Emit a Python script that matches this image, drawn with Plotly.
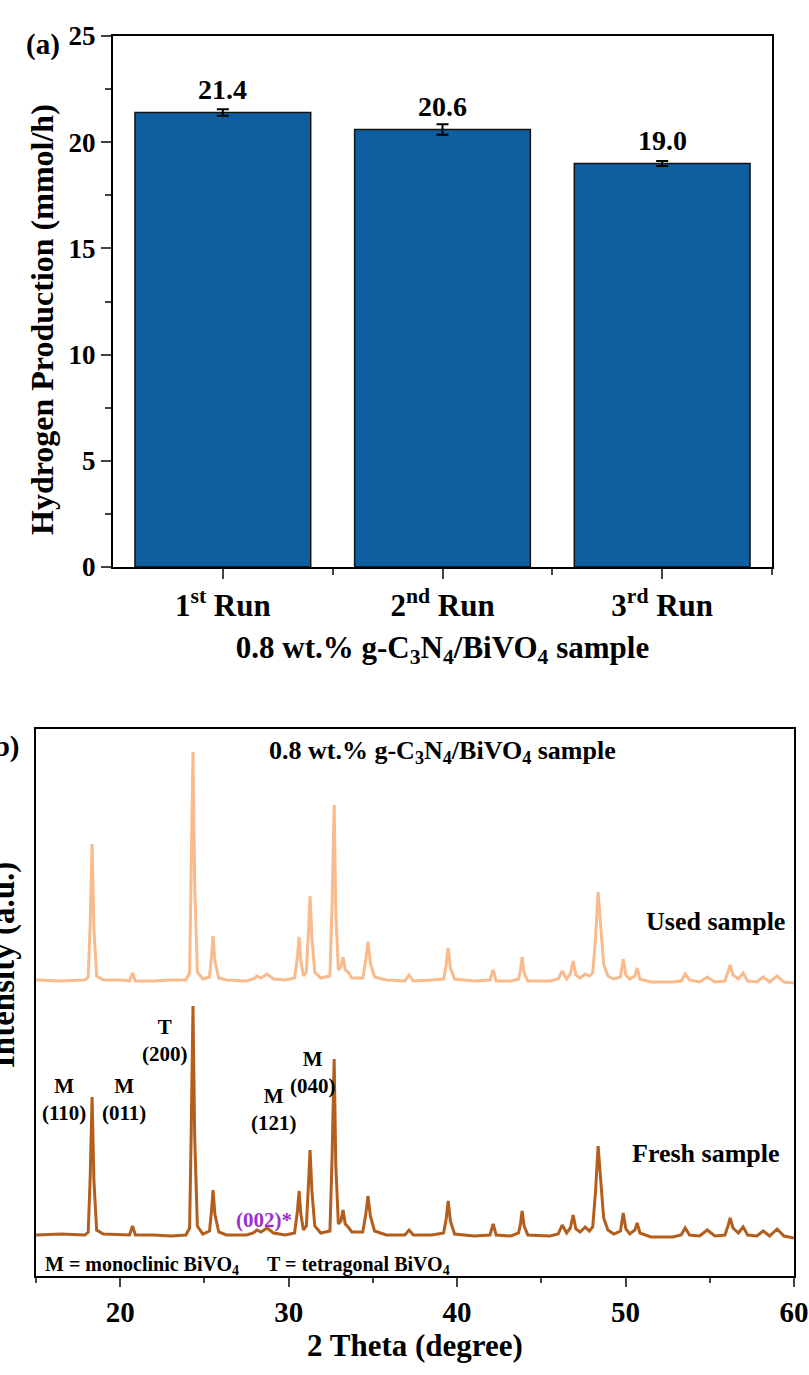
import plotly.graph_objects as go

# ---------------- Panel (a): hydrogen production over repeated runs ----------------
runs = ["1<sup>st</sup> Run", "2<sup>nd</sup> Run", "3<sup>rd</sup> Run"]
h2_rate = [21.4, 20.6, 19.0]          # mmol/h
h2_err = [0.15, 0.25, 0.12]

# ---------------- Panel (b): XRD patterns (2 theta in degrees, intensity a.u.) ----------------
two_theta = [
    15.0, 16.5, 17.9, 18.1, 18.22, 18.33, 18.44, 18.6, 19.0, 20.0,
    20.55, 20.73, 20.9, 22.0, 23.0, 23.9, 24.12, 24.22, 24.32, 24.42,
    24.58, 24.9, 25.3, 25.42, 25.51, 25.62, 25.85, 26.3, 27.5, 27.9,
    28.12, 28.35, 28.72, 29.1, 29.8, 30.35, 30.52, 30.62, 30.72, 30.88,
    31.05, 31.17, 31.27, 31.38, 31.55, 31.9, 32.45, 32.58, 32.70, 32.8,
    32.95, 33.1, 33.23, 33.36, 33.53, 33.75, 34.4, 34.58, 34.71, 34.85,
    35.1, 35.8, 36.9, 37.15, 37.4, 38.5, 39.2, 39.36, 39.47, 39.6,
    39.85, 41.0, 41.95, 42.14, 42.32, 43.2, 43.65, 43.76, 43.86, 43.98,
    44.2, 45.5, 46.0, 46.24, 46.5, 46.72, 46.89, 47.05, 47.3, 47.6,
    47.85, 48.05, 48.22, 48.37, 48.47, 48.55, 48.7, 48.95, 49.3, 49.7,
    49.86, 50.02, 50.25, 50.55, 50.69, 50.85, 51.5, 52.8, 53.3, 53.54,
    53.8, 54.4, 54.85, 55.3, 55.9, 56.08, 56.21, 56.38, 56.7, 56.98,
    57.25, 57.8, 58.17, 58.55, 59.0, 59.4, 60.0,
]
fresh_intensity = [
    41, 42, 41, 44, 100, 179, 95, 46, 42, 41,
    41, 50, 41, 41, 40, 41, 48, 150, 270, 140,
    50, 42, 45, 65, 86, 62, 44, 41, 41, 43,
    46, 44, 48, 43, 41, 43, 65, 85, 62, 46,
    50, 90, 126, 85, 50, 43, 45, 120, 217, 110,
    52, 55, 66, 52, 49, 44, 44, 62, 80, 60,
    45, 41, 41, 46, 41, 41, 43, 58, 75, 55,
    42, 40, 41, 52, 41, 40, 43, 52, 65, 50,
    41, 40, 42, 51, 43, 48, 61, 47, 44, 49,
    45, 49, 85, 130, 110, 94, 58, 46, 42, 45,
    63, 47, 42, 46, 53, 43, 39, 39, 41, 48,
    41, 40, 46, 40, 41, 50, 58, 48, 43, 49,
    41, 40, 45, 40, 47, 40, 38,
]
used_intensity = [
    41, 40, 41, 44, 98, 177, 92, 45, 41, 41,
    40, 48, 40, 40, 41, 41, 48, 148, 269, 138,
    49, 42, 44, 64, 85, 60, 43, 41, 40, 42,
    45, 43, 47, 42, 41, 43, 64, 84, 60, 45,
    49, 88, 125, 83, 49, 43, 45, 118, 216, 108,
    51, 54, 64, 51, 49, 43, 43, 61, 79, 58,
    44, 41, 40, 46, 40, 41, 42, 57, 73, 53,
    42, 40, 41, 51, 40, 40, 42, 50, 64, 48,
    40, 40, 42, 50, 42, 47, 60, 46, 43, 47,
    45, 48, 83, 129, 108, 92, 57, 45, 42, 44,
    62, 46, 42, 45, 53, 42, 39, 39, 40, 47,
    41, 39, 44, 39, 40, 49, 56, 46, 42, 48,
    40, 39, 44, 39, 45, 39, 38,
]
USED_OFFSET = 255   # vertical stacking of the used-sample pattern

SERIF = "Liberation Serif, Times New Roman, serif"
BAR_BLUE = "#0F5FA0"
FRESH_COLOR = "#B35E1C"
USED_COLOR = "#F9BA8C"
PURPLE = "#9B2FCF"

fig = go.Figure()

fig.add_trace(go.Bar(
    x=list(range(len(runs))), y=h2_rate, width=0.8,
    marker=dict(color=BAR_BLUE, line=dict(color="#111111", width=1.5)),
    error_y=dict(type="data", array=h2_err, visible=True, color="black",
                 thickness=2, width=6),
    xaxis="x", yaxis="y", showlegend=False,
))

fig.add_trace(go.Scatter(
    x=two_theta, y=[v + USED_OFFSET for v in used_intensity], mode="lines",
    line=dict(color=USED_COLOR, width=3), xaxis="x2", yaxis="y2", showlegend=False,
))
fig.add_trace(go.Scatter(
    x=two_theta, y=fresh_intensity, mode="lines",
    line=dict(color=FRESH_COLOR, width=3), xaxis="x2", yaxis="y2", showlegend=False,
))

W, H = 809, 1375


def px(x):
    return x / W


def py(y):
    return 1 - y / H


def bold(size, color="black"):
    return dict(family=SERIF, color=color, weight="bold", size=size)


common = dict(showline=True, linewidth=2, linecolor="black", mirror=True,
              showgrid=False, zeroline=False, automargin=False)

fig.update_layout(
    width=W, height=H, margin=dict(l=0, r=0, t=0, b=0, autoexpand=False),
    paper_bgcolor="white", plot_bgcolor="white",
    font=dict(family=SERIF, color="black"),
    xaxis=dict(
        domain=[px(113), px(772)], anchor="y", range=[-0.5, 2.5],
        tickmode="array", tickvals=[0, 1, 2], ticktext=runs,
        tickfont=bold(31), ticks="outside", ticklen=10, tickwidth=2,
        minor=dict(tickvals=[0.5, 1.5, 2.5], ticks="outside", ticklen=6, tickwidth=2),
        title=dict(text="0.8 wt.% g-C<sub>3</sub>N<sub>4</sub>/BiVO<sub>4</sub> sample",
                   font=bold(31), standoff=14),
        **common,
    ),
    yaxis=dict(
        domain=[py(567), py(36)], anchor="x", range=[0, 25],
        tickvals=[0, 5, 10, 15, 20, 25], tickfont=bold(27),
        ticks="outside", ticklen=10, tickwidth=2,
        minor=dict(tickvals=[2.5, 7.5, 12.5, 17.5, 22.5], ticks="outside", ticklen=6, tickwidth=2),
        **common,
    ),
    xaxis2=dict(
        domain=[px(36), px(794)], anchor="y2", range=[15, 60],
        tickvals=[20, 30, 40, 50, 60], tickfont=bold(29),
        ticks="outside", ticklen=9, tickwidth=2,
        minor=dict(tickvals=[15, 25, 35, 45, 55], ticks="outside", ticklen=5, tickwidth=2),
        title=dict(text="2 Theta (degree)", font=bold(31), standoff=1),
        **common,
    ),
    yaxis2=dict(
        domain=[py(1276), py(729)], anchor="x2", range=[0, 547],
        showticklabels=False, ticks="",
        **common,
    ),
)

annotations = []

# value labels above the bars
for i, v in enumerate(h2_rate):
    annotations.append(dict(
        x=i, y=v, xref="x", yref="y", text=f"{v:.1f}", showarrow=False,
        xanchor="center", yanchor="middle", yshift=23, font=bold(28),
    ))


def note(x, y, text, size, color="black", xanchor="center", angle=0):
    return dict(x=px(x), y=py(y), xref="paper", yref="paper", text=f"<b>{text}</b>",
                showarrow=False, xanchor=xanchor, yanchor="middle",
                textangle=angle, font=bold(size, color))


annotations += [
    note(43, 44, "(a)", 29),
    note(42, 320, "Hydrogen Production (mmol/h)", 32, angle=-90),
    # panel (b) texts
    note(21, 746, "(b)", 29, xanchor="right"),
    note(3, 965, "Intensity (a.u.)", 33, angle=-90),
    note(443, 752, "0.8 wt.% g-C<sub>3</sub>N<sub>4</sub>/BiVO<sub>4</sub> sample", 26),
    note(715, 921, "Used sample", 26),
    note(706, 1153, "Fresh sample", 26),
    note(43, 1265, "M = monoclinic BiVO<sub>4</sub>", 20, xanchor="left"),
    note(265, 1265, "T = tetragonal BiVO<sub>4</sub>", 20, xanchor="left"),
    note(64, 1099, "M<br>(110)", 21),
    note(124, 1099, "M<br>(011)", 21),
    note(165, 1040, "T<br>(200)", 21),
    note(274, 1109, "M<br>(121)", 21),
    note(313, 1072, "M<br>(040)", 21),
    note(264, 1220, "(002)*", 21, color=PURPLE),
]

fig.update_layout(annotations=annotations)

fig.write_html("out.html")
